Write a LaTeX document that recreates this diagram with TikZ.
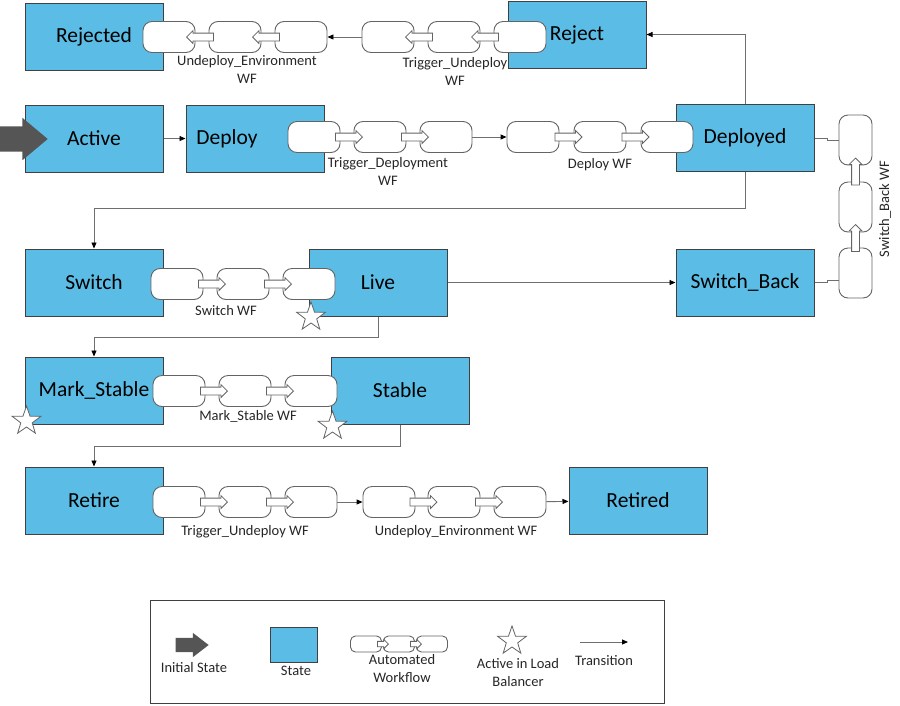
\documentclass[tikz,border=0pt]{standalone}
\usepackage{fontspec}
\setmainfont{Carlito}
\usetikzlibrary{shapes.geometric, shapes.arrows, arrows.meta, positioning}
\definecolor{statefill}{RGB}{91, 189, 229}
\definecolor{stateline}{RGB}{64, 64, 64}
\definecolor{wfline}{RGB}{100, 100, 100}
\definecolor{linkgray}{RGB}{110, 110, 110}
\definecolor{initgray}{RGB}{85, 85, 85}

\begin{document}
\begin{tikzpicture}[
    x=1pt, y=-1pt,
    state/.style={rectangle, draw=stateline, fill=statefill, line width=1pt, minimum width=138pt, minimum height=67pt, inner sep=0pt, font=\fontsize{21.5}{24}\selectfont},
    wf/.style={rectangle, rounded corners=9pt, draw=wfline, fill=white, line width=0.9pt, minimum width=52pt, minimum height=31pt, inner sep=0pt},
    wfv/.style={wf, minimum width=33pt, minimum height=50pt},
    wfmini/.style={wf, rounded corners=5pt, minimum width=31pt, minimum height=16pt},
    link/.style={single arrow, anchor=tip, draw=wfline, fill=white, line width=0.8pt, inner sep=0pt, text height=7pt, text depth=0pt, minimum height=27pt, single arrow head extend=2.5pt, single arrow tip angle=90},
    linkmini/.style={link, text height=4.5pt, minimum height=11pt, single arrow head extend=2pt},
    startarrow/.style={single arrow, anchor=tip, fill=initgray, draw=none, inner sep=0pt, text height=25pt, text depth=0pt, minimum height=48pt, single arrow head extend=8.5pt, single arrow tip angle=80},
    star5/.style={star, star points=5, star point ratio=2.5, draw=wfline, fill=white, line width=0.8pt, minimum size=30pt, inner sep=0pt},
    wflabel/.style={font=\fontsize{14.5}{18}\selectfont, align=center, text=black!85},
    trans/.style={draw=linkgray, line width=0.9pt, -{Triangle[length=6pt, width=5pt, black]}},
    wire/.style={draw=linkgray, line width=0.9pt}
]
    \useasboundingbox (0, 0) rectangle (900, 705);

    % Workflow labels
    \node[wflabel] (uelabel) at (247, 69) {Undeploy\_Environment\\WF};
    \node[wflabel] (tulabel) at (455, 71) {Trigger\_Undeploy\\WF};
    \node[wflabel] (tdlabel) at (388, 171) {Trigger\_Deployment\\WF};
    \node[wflabel] (dwlabel) at (600, 165) {Deploy WF};
    \node[wflabel] (swlabel) at (226, 311) {Switch WF};
    \node[wflabel] (mslabel) at (248, 416) {Mark\_Stable WF};
    \node[wflabel] (rulabel) at (245, 532) {Trigger\_Undeploy WF};
    \node[wflabel] (relabel) at (456, 532) {Undeploy\_Environment WF};
    \node[wflabel, rotate=90] (sblabel) at (885, 209) {Switch\_Back WF};

    % States
    \node[state] (rejected) at (94, 36.5) {Rejected};
    \node[state] (reject) at (577, 34.5) {Reject};
    \node[state] (active) at (94, 138.5) {Active};
    \node[state] (deploy) at (255, 138.5) {};
    \node[state] (deployed) at (745, 138) {Deployed};
    \node[state] (switch) at (94, 282.5) {Switch};
    \node[state] (live) at (378, 282.5) {Live};
    \node[state] (switchback) at (745, 282.5) {Switch\_Back};
    \node[state] (markstable) at (94, 390.5) {Mark\_Stable};
    \node[state] (stable) at (400, 390.5) {Stable};
    \node[state] (retire) at (94, 500.5) {Retire};
    \node[state] (retired) at (638, 500.5) {Retired};

    % Initial state
    \node[startarrow] (init) at (48, 139) {};

    % Transitions
    \draw[trans] (active) -- (deploy);
    \draw[trans] (deployed.north) |- (reject.east);
    \draw[trans] (deployed.south) -- ++(0, 36) -| (switch.north);
    \draw[trans] (live) -- (switchback);
    \draw[trans] (live.south) -- ++(0, 21) -| (markstable.north);
    \draw[trans] (stable.south) -- ++(0, 22) -| (retire.north);

    % Automated workflows
    \foreach \i/\x in {1/520, 2/454, 3/388} \node[wf] (tu\i) at (\x, 37) {};
    \foreach \i/\x in {1/301, 2/235, 3/169} \node[wf] (ue\i) at (\x, 37) {};
    \foreach \x in {471, 405, 252, 186} \node[link, rotate=180] at (\x, 37) {};
    \draw[trans] (tu3) -- (ue1);

    \foreach \i/\x in {1/314, 2/380, 3/446} \node[wf] (td\i) at (\x, 137) {};
    \foreach \i/\x in {1/533, 2/600, 3/667} \node[wf] (dw\i) at (\x, 137) {};
    \foreach \x in {363, 429, 582.5, 649.5} \node[link] at (\x, 137) {};
    \draw[trans] (td3) -- (dw1);

    \foreach \i/\x in {1/177, 2/243, 3/309} \node[wf] (sw\i) at (\x, 284) {};
    \foreach \x in {226, 292} \node[link] at (\x, 284) {};

    \foreach \i/\x in {1/179, 2/245, 3/311} \node[wf] (ms\i) at (\x, 391) {};
    \foreach \x in {228, 294} \node[link] at (\x, 391) {};

    \foreach \i/\x in {1/179, 2/245, 3/311} \node[wf] (ru\i) at (\x, 502) {};
    \foreach \i/\x in {1/389, 2/454, 3/520} \node[wf] (re\i) at (\x, 502) {};
    \foreach \x in {228, 294, 437.5, 503} \node[link] at (\x, 502) {};
    \draw[trans] (ru3) -- (re1);
    \draw[trans] (re3) -- (retired);

    \foreach \i/\y in {1/273, 2/207, 3/140} \node[wfv] (sb\i) at (855.5, \y) {};
    \foreach \y in {224, 157.5} \node[link, rotate=90] at (855.5, \y) {};
    \draw[wire] (switchback.east) -- ++(13, 0) |- ([yshift=-7pt]sb1.west);
    \draw[wire] (deployed.east) -- ++(13, 0) |- (sb3.west);

    % State text beside the workflow
    \node[font=\fontsize{21.5}{24}\selectfont] (deploytext) at (227, 138.5) {Deploy};

    % Active in load balancer
    \node[star5] (livestar) at (311, 317) {};
    \node[star5] (markstar) at (26.5, 421) {};
    \node[star5] (stablestar) at (332.5, 426) {};

    % Legend
    \node[rectangle, draw=stateline, line width=0.8pt, minimum width=514pt, minimum height=103pt] (legend) at (407, 651.5) {};
    \node[startarrow, minimum height=33pt, text height=14pt, single arrow head extend=5pt, single arrow tip angle=75] (leginit) at (209, 645) {};
    \node[state, minimum width=47pt, minimum height=35pt] (legstate) at (294, 644.5) {};
    \foreach \i/\x in {1/366, 2/399, 3/432} \node[wfmini] (legwf\i) at (\x, 644) {};
    \foreach \x in {389, 422} \node[linkmini] at (\x, 644) {};
    \node[star5] (legstar) at (512, 641) {};
    \coordinate (legtrA) at (580, 642);
    \coordinate (legtrB) at (628, 642);
    \draw[trans] (legtrA) -- (legtrB);

    \node[wflabel] (leginitlabel) at (194, 668) {Initial State};
    \node[wflabel] (legstatelabel) at (296, 671) {State};
    \node[wflabel] (legwflabel) at (402, 669) {Automated\\Workflow};
    \node[wflabel] (legstarlabel) at (518, 672.5) {Active in Load\\Balancer};
    \node[wflabel] (legtrlabel) at (604, 661) {Transition};
\end{tikzpicture}
\end{document}
